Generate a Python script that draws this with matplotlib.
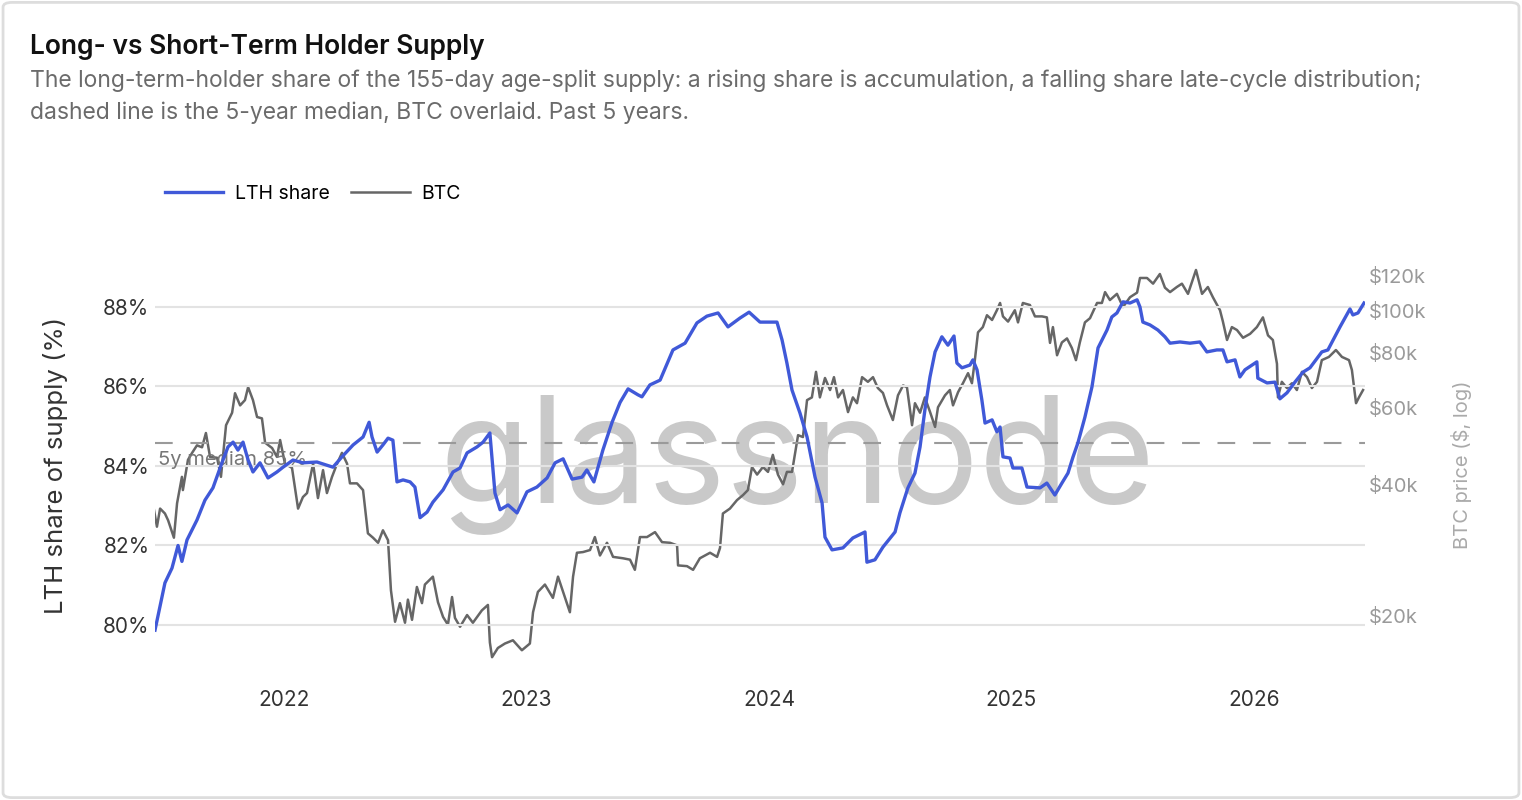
import matplotlib
matplotlib.use("Agg")
import matplotlib.pyplot as plt
from matplotlib.patches import FancyBboxPatch
from matplotlib.ticker import FixedLocator, NullLocator, FuncFormatter

plt.rcParams["font.family"] = ["Inter", "DejaVu Sans"]

# time axis is in fractional years
lth_t = [
    2021.468, 2021.509, 2021.538, 2021.563, 2021.579, 2021.600, 2021.641, 2021.674, 2021.707, 2021.744,
    2021.769, 2021.790, 2021.810, 2021.831, 2021.852, 2021.872, 2021.901, 2021.934, 2021.971, 2021.996,
    2022.037, 2022.078, 2022.136, 2022.202, 2022.239, 2022.285, 2022.326, 2022.351, 2022.363, 2022.384,
    2022.408, 2022.429, 2022.449, 2022.466, 2022.491, 2022.520, 2022.540, 2022.561, 2022.590, 2022.614,
    2022.656, 2022.697, 2022.726, 2022.755, 2022.796, 2022.821, 2022.849, 2022.870, 2022.891, 2022.924,
    2022.961, 2023.002, 2023.043, 2023.085, 2023.118, 2023.151, 2023.188, 2023.229, 2023.249, 2023.278,
    2023.315, 2023.353, 2023.386, 2023.419, 2023.460, 2023.476, 2023.509, 2023.551, 2023.604, 2023.654,
    2023.703, 2023.744, 2023.790, 2023.831, 2023.880, 2023.918, 2023.963, 2024.033, 2024.054, 2024.074,
    2024.095, 2024.128, 2024.157, 2024.190, 2024.219, 2024.231, 2024.260, 2024.305, 2024.346, 2024.396,
    2024.404, 2024.437, 2024.470, 2024.520, 2024.540, 2024.573, 2024.602, 2024.623, 2024.643, 2024.664,
    2024.685, 2024.713, 2024.738, 2024.763, 2024.775, 2024.796, 2024.829, 2024.841, 2024.858, 2024.878,
    2024.891, 2024.920, 2024.940, 2024.953, 2024.965, 2024.994, 2025.006, 2025.043, 2025.064, 2025.118,
    2025.146, 2025.179, 2025.208, 2025.233, 2025.254, 2025.274, 2025.303, 2025.332, 2025.357, 2025.394,
    2025.414, 2025.435, 2025.460, 2025.489, 2025.518, 2025.530, 2025.542, 2025.571, 2025.604, 2025.633,
    2025.654, 2025.695, 2025.736, 2025.777, 2025.806, 2025.847, 2025.872, 2025.889, 2025.922, 2025.942,
    2025.963, 2026.012, 2026.016, 2026.054, 2026.087, 2026.107, 2026.136, 2026.169, 2026.202, 2026.231,
    2026.280, 2026.305, 2026.355, 2026.396, 2026.408, 2026.429, 2026.454,
]
lth_share = [
    79.87, 81.06, 81.43, 82.00, 81.60, 82.14, 82.64, 83.14, 83.45, 84.08,
    84.48, 84.60, 84.40, 84.60, 84.15, 83.85, 84.08, 83.70, 83.85, 83.97,
    84.15, 84.08, 84.10, 83.97, 84.23, 84.53, 84.73, 85.10, 84.73, 84.35,
    84.53, 84.70, 84.65, 83.60, 83.65, 83.60, 83.47, 82.70, 82.84, 83.09,
    83.40, 83.85, 83.95, 84.33, 84.48, 84.60, 84.83, 83.32, 82.90, 83.02,
    82.82, 83.35, 83.47, 83.70, 84.08, 84.18, 83.67, 83.72, 83.90, 83.60,
    84.40, 85.10, 85.60, 85.94, 85.79, 85.74, 86.04, 86.16, 86.92, 87.09,
    87.60, 87.77, 87.85, 87.50, 87.72, 87.87, 87.62, 87.62, 87.17, 86.59,
    85.91, 85.33, 84.73, 83.72, 83.07, 82.21, 81.89, 81.94, 82.19, 82.34,
    81.58, 81.64, 81.96, 82.34, 82.82, 83.45, 83.82, 84.48, 85.41, 86.24,
    86.87, 87.25, 87.04, 87.27, 86.59, 86.47, 86.54, 86.67, 86.42, 85.66,
    85.08, 85.16, 84.86, 84.98, 84.23, 84.20, 83.95, 83.95, 83.47, 83.45,
    83.57, 83.27, 83.57, 83.82, 84.23, 84.58, 85.23, 85.99, 86.97, 87.42,
    87.75, 87.85, 88.13, 88.10, 88.18, 88.00, 87.62, 87.55, 87.42, 87.25,
    87.09, 87.12, 87.09, 87.12, 86.87, 86.92, 86.92, 86.62, 86.67, 86.24,
    86.42, 86.62, 86.21, 86.09, 86.11, 85.69, 85.84, 86.11, 86.36, 86.47,
    86.87, 86.92, 87.50, 87.95, 87.80, 87.85, 88.10,
]

btc_t = [
    2021.464, 2021.476, 2021.489, 2021.509, 2021.522, 2021.546, 2021.559, 2021.579, 2021.583, 2021.604,
    2021.621, 2021.641, 2021.662, 2021.678, 2021.695, 2021.724, 2021.740, 2021.761, 2021.786, 2021.798,
    2021.819, 2021.839, 2021.852, 2021.872, 2021.889, 2021.909, 2021.922, 2021.951, 2021.971, 2021.984,
    2022.004, 2022.033, 2022.058, 2022.078, 2022.095, 2022.120, 2022.140, 2022.161, 2022.177, 2022.198,
    2022.219, 2022.239, 2022.260, 2022.272, 2022.301, 2022.326, 2022.346, 2022.367, 2022.388, 2022.408,
    2022.429, 2022.441, 2022.458, 2022.478, 2022.499, 2022.511, 2022.528, 2022.548, 2022.569, 2022.581,
    2022.614, 2022.635, 2022.656, 2022.676, 2022.693, 2022.705, 2022.726, 2022.755, 2022.779, 2022.816,
    2022.841, 2022.849, 2022.858, 2022.882, 2022.911, 2022.944, 2022.981, 2023.014, 2023.027, 2023.047,
    2023.076, 2023.109, 2023.130, 2023.151, 2023.179, 2023.192, 2023.208, 2023.233, 2023.262, 2023.282,
    2023.303, 2023.332, 2023.357, 2023.398, 2023.427, 2023.447, 2023.468, 2023.497, 2023.530, 2023.559,
    2023.592, 2023.621, 2023.625, 2023.662, 2023.687, 2023.715, 2023.757, 2023.786, 2023.798, 2023.810,
    2023.839, 2023.868, 2023.893, 2023.913, 2023.930, 2023.951, 2023.975, 2023.996, 2024.016, 2024.037,
    2024.058, 2024.074, 2024.095, 2024.120, 2024.140, 2024.157, 2024.177, 2024.194, 2024.210, 2024.231,
    2024.252, 2024.268, 2024.285, 2024.305, 2024.326, 2024.346, 2024.363, 2024.384, 2024.408, 2024.429,
    2024.449, 2024.470, 2024.487, 2024.511, 2024.532, 2024.553, 2024.569, 2024.590, 2024.602, 2024.623,
    2024.643, 2024.664, 2024.685, 2024.697, 2024.726, 2024.746, 2024.759, 2024.780, 2024.800, 2024.821,
    2024.837, 2024.849, 2024.862, 2024.882, 2024.899, 2024.920, 2024.940, 2024.953, 2024.965, 2024.986,
    2025.014, 2025.027, 2025.047, 2025.076, 2025.097, 2025.126, 2025.146, 2025.159, 2025.171, 2025.188,
    2025.208, 2025.229, 2025.249, 2025.266, 2025.282, 2025.303, 2025.324, 2025.353, 2025.373, 2025.386,
    2025.406, 2025.435, 2025.460, 2025.489, 2025.518, 2025.530, 2025.559, 2025.584, 2025.612, 2025.633,
    2025.654, 2025.682, 2025.703, 2025.728, 2025.761, 2025.786, 2025.810, 2025.831, 2025.860, 2025.872,
    2025.889, 2025.909, 2025.930, 2025.955, 2025.984, 2026.012, 2026.037, 2026.058, 2026.078, 2026.095,
    2026.099, 2026.115, 2026.136, 2026.157, 2026.177, 2026.198, 2026.219, 2026.239, 2026.260, 2026.280,
    2026.309, 2026.338, 2026.363, 2026.392, 2026.404, 2026.421, 2026.433, 2026.450,
]
btc_price = [  # USD
    34900, 32000, 35200, 34300, 33100, 30200, 36200, 41600, 38800, 45500,
    47200, 49100, 48600, 52400, 46200, 46000, 41600, 54600, 58300, 64600,
    60600, 62300, 66700, 62300, 57000, 56600, 49800, 48400, 46200, 50500,
    44600, 43600, 35200, 37400, 38200, 44600, 37200, 43100, 38200, 41600,
    44600, 47200, 44600, 40200, 40200, 38800, 30900, 30200, 29400, 31400,
    29800, 22900, 19400, 21400, 19300, 21800, 19600, 23300, 21400, 23600,
    24600, 21500, 19900, 19100, 22100, 19800, 18900, 20100, 19300, 20600,
    21200, 17400, 16100, 16900, 17300, 17600, 16700, 17300, 20400, 22700,
    23600, 22000, 24600, 22700, 20400, 24600, 27900, 28000, 28300, 30300,
    27500, 29400, 27300, 27100, 26900, 25500, 30300, 30300, 31100, 29500,
    29400, 29000, 26100, 26000, 25500, 27100, 27900, 27300, 28600, 34300,
    35200, 36800, 37800, 38800, 43800, 42100, 43800, 42700, 46700, 42100,
    40000, 42700, 42700, 51800, 51300, 62300, 63200, 72300, 63200, 70000,
    65700, 70300, 63200, 65700, 58500, 63200, 61300, 70300, 68600, 70300,
    66400, 64700, 60600, 56100, 63900, 67300, 66700, 54600, 61300, 58300,
    63200, 58600, 54100, 60000, 63900, 65700, 60600, 65000, 68100, 71800,
    68100, 76900, 89000, 91500, 97400, 95000, 100000, 103900, 96800, 94200,
    100000, 93800, 103900, 102800, 96800, 96800, 96300, 84200, 91500, 78900,
    84400, 86200, 82000, 76900, 84400, 93800, 95900, 103900, 103900, 110000,
    105500, 109000, 101700, 107100, 109700, 118500, 118500, 115000, 121000, 112600,
    110000, 113000, 115000, 109000, 123600, 109000, 113000, 107000, 100000, 94200,
    85500, 91500, 90100, 86500, 88300, 91500, 96300, 87600, 85500, 75400,
    63200, 68600, 66400, 68100, 65700, 72300, 70300, 66400, 68600, 76900,
    78200, 81100, 78200, 76900, 73000, 61300, 63200, 65700,
]

median_5y = 84.58
year_ticks = [2022, 2023, 2024, 2025, 2026]
share_ticks = [80, 82, 84, 86, 88]
price_ticks = [20000, 40000, 60000, 80000, 100000, 120000]

BLUE = "#4059d8"
GREY = "#666666"

fig = plt.figure(figsize=(15.22, 8), dpi=100)
fig.patch.set_facecolor("white")
fig.patches.append(FancyBboxPatch((0.002, 0.003), 0.996, 0.994,
                                  boxstyle="round,pad=0,rounding_size=0.006",
                                  transform=fig.transFigure, fill=False,
                                  edgecolor="#dddddd", linewidth=2))

fig.text(30 / 1522, 1 - 47 / 800, "Long- vs Short-Term Holder Supply",
         fontsize=19, fontweight="semibold", color="#111111", va="center")
fig.text(30 / 1522, 1 - 97 / 800,
         "The long-term-holder share of the 155-day age-split supply: a rising share is "
         "accumulation, a falling share late-cycle distribution;\n"
         "dashed line is the 5-year median, BTC overlaid. Past 5 years.",
         fontsize=16.5, color="#6b6b6b", va="center", linespacing=1.52)

# watermark under everything
fig.text(797 / 1522, 1 - 465 / 800, "glassnode", fontsize=106, color="#c9c9c9",
         ha="center", va="center", zorder=-5)

ax = fig.add_axes([155 / 1522, 1 - 675 / 800, 1210 / 1522, 425 / 800])
ax2 = ax.twinx()
ax.set_zorder(ax2.get_zorder() + 1)
ax.patch.set_visible(False)
ax2.patch.set_visible(False)

btc_line, = ax2.plot(btc_t, btc_price, color=GREY, lw=1.8, label="BTC")
ax2.set_yscale("log")
ax2.set_ylim(14660, 137300)
ax2.yaxis.set_major_locator(FixedLocator(price_ticks))
ax2.yaxis.set_minor_locator(NullLocator())
ax2.yaxis.set_major_formatter(FuncFormatter(lambda v, p: f"${v / 1000:.0f}k"))
ax2.tick_params(axis="y", length=0, pad=3, labelsize=14.5, labelcolor="#9a9a9a")

lth_line, = ax.plot(lth_t, lth_share, color=BLUE, lw=2.4, label="LTH share", zorder=3)
ax.axhline(median_5y, color="#9a9a9a", lw=1.5, ls=(0, (8.5, 8.5)), zorder=2)
ax.text(2021.48, median_5y - 0.2, "5y median 85%", fontsize=14.5, color="#777777",
        va="top", ha="left", zorder=2)

ax.set_xlim(2021.468, 2026.458)
ax.set_ylim(78.742, 89.434)
ax.set_yticks(share_ticks)
ax.set_yticklabels([f"{v}%" for v in share_ticks])
ax.set_xticks(year_ticks)
ax.set_xticklabels([str(y) for y in year_ticks])
ax.grid(axis="y", color="#e3e3e3", lw=1.5, zorder=0)
ax.tick_params(axis="y", length=0, pad=4, labelsize=15, labelcolor="#333333")
ax.tick_params(axis="x", length=0, pad=11, labelsize=15, labelcolor="#333333")
for a in (ax, ax2):
    for s in a.spines.values():
        s.set_visible(False)

fig.text(55 / 1522, 1 - 465 / 800, "LTH share of supply (%)", rotation=90,
         fontsize=18.5, color="#333333", ha="center", va="center")
fig.text(1462 / 1522, 1 - 465 / 800, "BTC price ($, log)", rotation=90,
         fontsize=14.5, color="#aaaaaa", ha="center", va="center")

fig.legend(handles=[lth_line, btc_line], loc="center left",
           bbox_to_anchor=(165 / 1522, 1 - 194 / 800), ncol=2, frameon=False,
           fontsize=14, handlelength=3.0, handletextpad=0.6, columnspacing=1.1,
           borderpad=0, borderaxespad=0)

fig.savefig("out.png", dpi=100)
